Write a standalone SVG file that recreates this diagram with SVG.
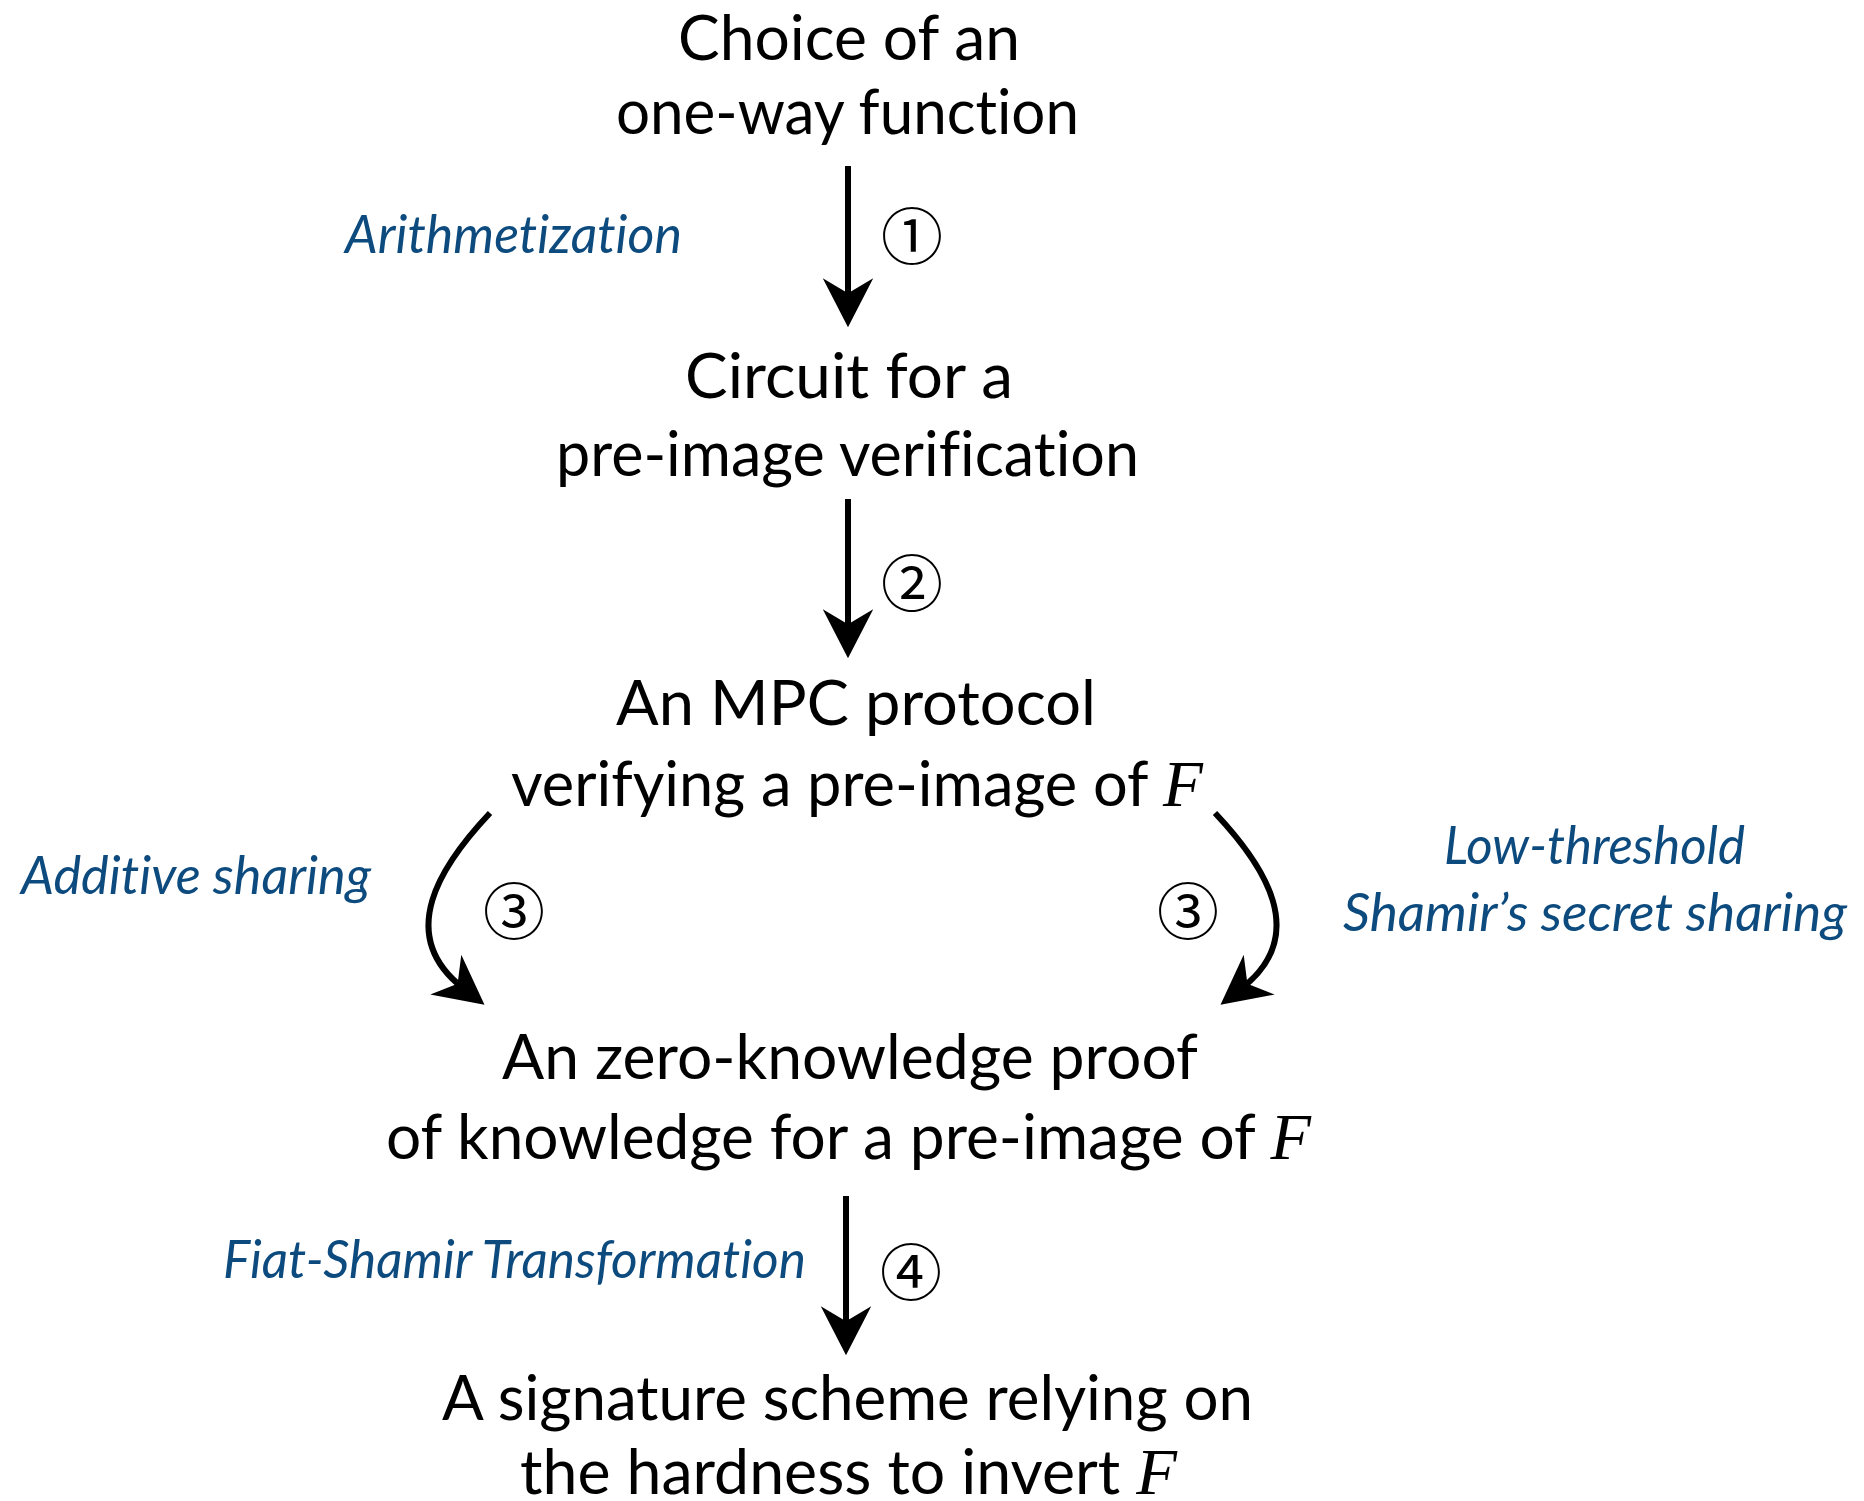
<svg xmlns="http://www.w3.org/2000/svg" width="1864" height="1501" viewBox="0 0 1864 1501">
  <style>
    text { font-variant-ligatures: none; font-feature-settings: "liga" 0, "dlig" 0; }
    .node { font-family: Lato, "Liberation Sans", sans-serif; font-size: 62px; fill: #000; }
    .math { font-family: "Liberation Serif", serif; font-style: italic; font-size: 66px; }
    .label { font-family: Lato, "Liberation Sans", sans-serif; font-style: italic; font-size: 52px; fill: #0d4b7f; }
    .step { font-family: "Noto Sans CJK JP", "DejaVu Sans", sans-serif; font-size: 62px; fill: #000; text-anchor: middle; }
    .edge { fill: none; stroke: #000; stroke-width: 6; marker-end: url(#head); }
  </style>
  <defs>
    <marker id="head" markerUnits="userSpaceOnUse" orient="auto" refX="0" refY="0" markerWidth="60" markerHeight="60" viewBox="-20 -20 44 40" overflow="visible">
      <path d="M20,0 L-16,-18.5 L-5,0 L-16,18.5 Z" fill="#000"/>
    </marker>
  </defs>
  <rect width="1864" height="1501" fill="#fff"/>

  <g id="owf">
    <text class="node" x="678" y="60" textLength="342" lengthAdjust="spacingAndGlyphs">Choice of an</text>
    <text class="node" x="616" y="134" textLength="463" lengthAdjust="spacingAndGlyphs">one-way function</text>
  </g>

  <g id="circuit">
    <text class="node" x="685" y="398" textLength="328" lengthAdjust="spacingAndGlyphs">Circuit for a</text>
    <text class="node" x="556" y="476" textLength="583" lengthAdjust="spacingAndGlyphs">pre-image verification</text>
  </g>

  <g id="mpc">
    <text class="node" x="616" y="725" textLength="480" lengthAdjust="spacingAndGlyphs">An MPC protocol</text>
    <text class="node" x="511" y="806" textLength="692" lengthAdjust="spacingAndGlyphs">verifying a pre-image of <tspan class="math">F</tspan></text>
  </g>

  <g id="zkpok">
    <text class="node" x="502" y="1079" textLength="696" lengthAdjust="spacingAndGlyphs">An zero-knowledge proof</text>
    <text class="node" x="386" y="1159" textLength="925" lengthAdjust="spacingAndGlyphs">of knowledge for a pre-image of <tspan class="math">F</tspan></text>
  </g>

  <g id="signature">
    <text class="node" x="442" y="1420" textLength="811" lengthAdjust="spacingAndGlyphs">A signature scheme relying on</text>
    <text class="node" x="520" y="1494" textLength="657" lengthAdjust="spacingAndGlyphs">the hardness to invert <tspan class="math">F</tspan></text>
  </g>

  <g id="connectors">
    <path class="edge" d="M848,166 L848,300"/>
    <path class="edge" d="M848,499 L848,631"/>
    <path class="edge" d="M490,813 C440,866 395,935 463,988"/>
    <path class="edge" d="M1215,813 C1265,866 1310,935 1242,988"/>
    <path class="edge" d="M846,1196 L846,1328"/>
  </g>

  <g id="edge-labels">
    <text class="label" x="345" y="253" textLength="337" lengthAdjust="spacingAndGlyphs">Arithmetization</text>
    <text class="label" x="21" y="894" textLength="350" lengthAdjust="spacingAndGlyphs">Additive sharing</text>
    <text class="label" x="1444" y="864" textLength="301" lengthAdjust="spacingAndGlyphs">Low-threshold</text>
    <text class="label" x="1343" y="931" textLength="504" lengthAdjust="spacingAndGlyphs">Shamir’s secret sharing</text>
    <text class="label" x="223" y="1278" textLength="583" lengthAdjust="spacingAndGlyphs">Fiat-Shamir Transformation</text>
  </g>

  <g id="step-numbers">
    <text class="step" x="912" y="260">①</text>
    <text class="step" x="912" y="607">②</text>
    <text class="step" x="514" y="935">③</text>
    <text class="step" x="1188" y="935">③</text>
    <text class="step" x="911" y="1296">④</text>
  </g>
</svg>
